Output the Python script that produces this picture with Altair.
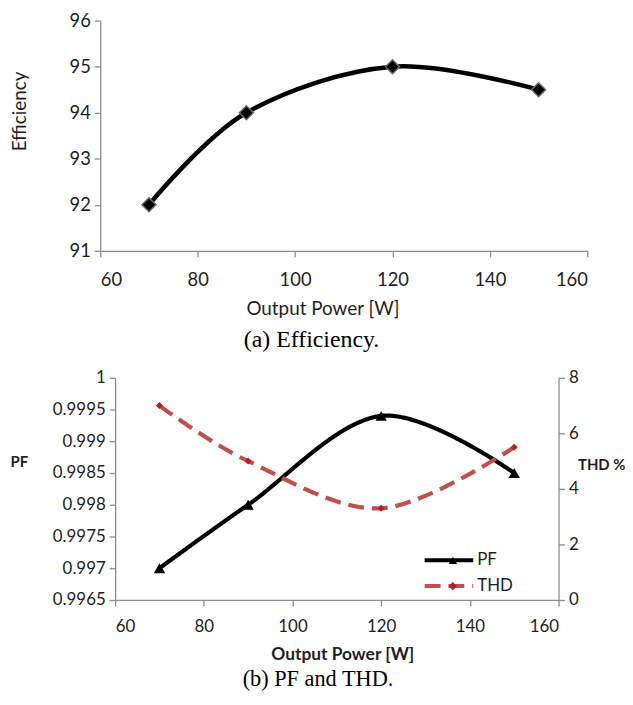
import altair as alt
import pandas as pd

# ---------------- data ----------------
power = [70, 90, 120, 150]
efficiency = [92, 94, 95, 94.5]
pf = [0.997, 0.998, 0.9994, 0.9985]
thd = [7.0, 5.0, 3.3, 5.5]

x_ticks = [60, 80, 100, 120, 140, 160]
eff_ticks = [91, 92, 93, 94, 95, 96]
pf_ticks = [0.9965, 0.997, 0.9975, 0.998, 0.9985, 0.999, 0.9995, 1.0]
thd_ticks = [0, 2, 4, 6, 8]
series = ["PF", "THD"]
marker_keys = ["PF marker", "THD marker"]

FONT = "Lato"
SERIF = "Liberation Serif"
GREY = "#8c8c8c"
TXT = "#1e1e1e"
RED = "#C0504D"
RED_DARK = "#B51F24"

eff_df = pd.DataFrame({"power": power, "eff": efficiency})
pf_df = pd.DataFrame({"power": power, "val": pf, "series": series[0], "marker": marker_keys[0]})
thd_df = pd.DataFrame({"power": power, "val": thd, "series": series[1], "marker": marker_keys[1]})

axis_common = dict(
    grid=False, domainColor=GREY, tickColor=GREY, tickSize=6, domainWidth=1.3,
    tickWidth=1.3, labelFont=FONT, labelColor=TXT, titleFont=FONT, titleColor=TXT,
)

# ---------------- (a) efficiency ----------------
# the top panel's plot starts 15px left of the lower panel's plot
x_top = alt.X("power:Q", scale=alt.Scale(domain=[60, 160], nice=False, range=[-15, 476]),
              axis=alt.Axis(values=x_ticks, title="Output Power [W]", labelFontSize=18.5,
                            titleFontSize=19, titleFontWeight="normal", labelPadding=14,
                            titlePadding=11, titleX=209, **axis_common))
y_top = alt.Y("eff:Q", scale=alt.Scale(domain=[91, 96], nice=False, zero=False),
              axis=alt.Axis(values=eff_ticks, title="Efficiency", labelFontSize=18.5,
                            titleFontSize=19, titleFontWeight="normal", labelPadding=4,
                            offset=15, titleX=-81, titleY=91, titleAlign="center",
                            titleBaseline="middle", **axis_common))

base_top = alt.Chart(eff_df).encode(x=x_top, y=y_top)
top = alt.layer(
    base_top.mark_line(color="black", strokeWidth=4.5, interpolate="cardinal"),
    base_top.mark_point(shape="diamond", filled=True, fill="black", stroke="#6a6a6a",
                        strokeWidth=1.5, size=200, opacity=1),
).properties(
    width=476, height=232,
    title=alt.TitleParams("(a) Efficiency.", orient="bottom", anchor="middle", frame="group",
                          font=SERIF, fontSize=24, fontWeight="normal", color="black",
                          offset=9, dx=-40),
)

# ---------------- (b) PF and THD ----------------
x_bot = alt.X("power:Q", scale=alt.Scale(domain=[60, 160], nice=False),
              axis=alt.Axis(values=x_ticks, title="Output Power [W]", labelFontSize=17,
                            titleFontSize=17.5, titleFontWeight="bold", labelPadding=13,
                            titlePadding=11, titleX=229, **axis_common))

line_legend = dict(title=None, orient="none", legendX=310, legendY=174, symbolType="stroke",
                   symbolSize=2400, symbolStrokeWidth=4, clipHeight=20, rowPadding=6,
                   labelFont=FONT, labelFontSize=17, labelColor=TXT, labelOffset=2)
marker_legend = dict(title=None, orient="none", legendX=332, legendY=174, clipHeight=20,
                     rowPadding=6, labelExpr="''", labelFontSize=17, symbolSize=70,
                     symbolStrokeWidth=0)

color_enc = alt.Color("series:N", scale=alt.Scale(domain=series, range=["black", RED]),
                      legend=alt.Legend(**line_legend))
dash_enc = alt.StrokeDash("series:N", scale=alt.Scale(domain=series, range=[[1, 0], [16, 8]]),
                          legend=alt.Legend(**line_legend))
fill_enc = alt.Fill("marker:N", scale=alt.Scale(domain=marker_keys, range=["black", RED_DARK]),
                    legend=alt.Legend(**marker_legend))
shape_enc = alt.Shape("marker:N", scale=alt.Scale(domain=marker_keys, range=["triangle-up", "diamond"]),
                      legend=alt.Legend(**marker_legend))

y_pf = alt.Y("val:Q", scale=alt.Scale(domain=[0.9965, 1.0], nice=False, zero=False),
             axis=alt.Axis(values=pf_ticks, format=".4~f", title="PF", titleAngle=0,
                           titleX=-97, titleY=84, titleAlign="center", titleBaseline="middle",
                           labelFontSize=17, titleFontSize=15, titleFontWeight="bold",
                           labelPadding=4, **axis_common))
y_thd = alt.Y("val:Q", scale=alt.Scale(domain=[0, 8], nice=False),
              axis=alt.Axis(values=thd_ticks, orient="right", title="THD %", titleAngle=0,
                            titleX=43, titleY=87, titleAlign="center", titleBaseline="middle",
                            labelFontSize=17, titleFontSize=15, titleFontWeight="bold",
                            labelPadding=4, **axis_common))

pf_base = alt.Chart(pf_df).encode(x=x_bot, y=y_pf)
pf_layer = alt.layer(
    pf_base.mark_line(strokeWidth=4.2, interpolate="cardinal").encode(color=color_enc, strokeDash=dash_enc),
    pf_base.mark_point(filled=True, size=130, opacity=1).encode(fill=fill_enc, shape=shape_enc),
)
thd_base = alt.Chart(thd_df).encode(x=x_bot, y=y_thd)
thd_layer = alt.layer(
    thd_base.mark_line(strokeWidth=4.2, interpolate="cardinal").encode(color=color_enc, strokeDash=dash_enc),
    thd_base.mark_point(filled=True, size=50, opacity=1).encode(fill=fill_enc, shape=shape_enc),
)

bottom = alt.layer(pf_layer, thd_layer).resolve_scale(y="independent").properties(
    width=447, height=224,
    title=alt.TitleParams("(b) PF and THD.", orient="bottom", anchor="middle", frame="group",
                          font=SERIF, fontSize=22.5, fontWeight="normal", color="black",
                          offset=5, dx=-19),
)

chart = alt.vconcat(top, bottom, spacing=17).resolve_scale(
    color="independent", strokeDash="independent", fill="independent", shape="independent"
).resolve_legend(
    color="independent", strokeDash="independent", fill="independent", shape="independent"
).properties(
    padding={"left": 2, "top": 1, "right": 0, "bottom": 0}
).configure_view(stroke=None)

chart.save("out.html", embed_options={"renderer": "svg", "actions": False})
